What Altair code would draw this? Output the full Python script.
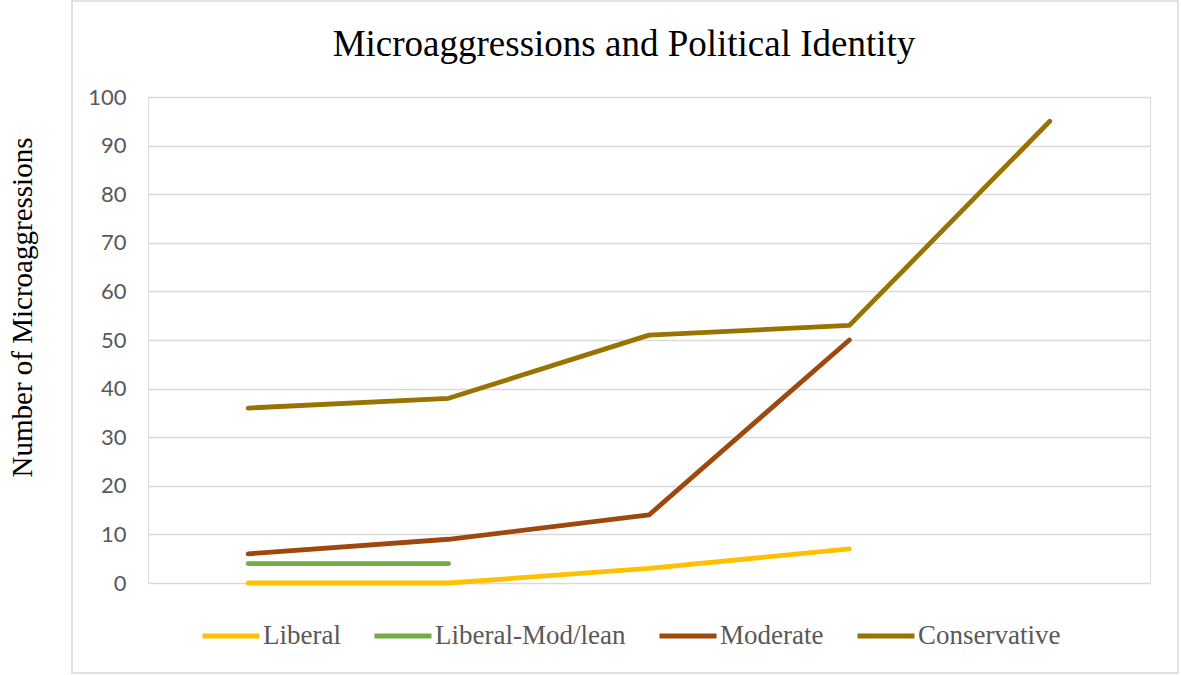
import altair as alt
import pandas as pd

# ---- data ----
series_names = ["Liberal", "Liberal-Mod/lean", "Moderate", "Conservative"]
series_colors = ["#FFC000", "#70AD47", "#9E480E", "#997300"]
positions = [1, 2, 3, 4, 5]
liberal = [0, 0, 3, 7]
liberal_mod = [4, 4]
moderate = [6, 9, 14, 50]
conservative = [36, 38, 51, 53, 95]
y_ticks = [0, 10, 20, 30, 40, 50, 60, 70, 80, 90, 100]
chart_title = "Microaggressions and Political Identity"

rows = []
for name, vals in zip(series_names, [liberal, liberal_mod, moderate, conservative]):
    for i, v in enumerate(vals):
        rows.append({"series": name, "pos": positions[i], "value": v})
df = pd.DataFrame(rows)

W, H = 1002, 486
PL, PT = 148, 97

lines = alt.Chart(df).mark_line(
    strokeWidth=4.8, strokeCap="round", strokeJoin="round"
).encode(
    x=alt.X("pos:Q", scale=alt.Scale(domain=[0.5, 5.5], nice=False, zero=False), axis=None),
    y=alt.Y(
        "value:Q",
        scale=alt.Scale(domain=[0, 100], nice=False),
        axis=alt.Axis(
            values=y_ticks,
            title="Number of Microaggressions",
            titleFont="Liberation Serif",
            titleFontSize=29,
            titleFontWeight="normal",
            titleColor="#000000",
            titleAngle=-90,
            titleAlign="center",
            titleBaseline="middle",
            titleX=22 - PL,
            titleY=210,
            labelFont="Lato",
            labelFontSize=22,
            labelColor="#595959",
            labelPadding=22,
            ticks=False,
            domain=False,
            grid=True,
            gridColor="#d9d9d9",
            gridWidth=1.5,
        ),
    ),
    color=alt.Color(
        "series:N",
        scale=alt.Scale(domain=series_names, range=series_colors),
        sort=series_names,
        legend=alt.Legend(
            title=None,
            orient="none",
            direction="horizontal",
            legendX=200 - PL,
            legendY=508,
            symbolType="stroke",
            symbolSize=3249,
            symbolStrokeWidth=5,
            labelFont="Liberation Serif",
            labelFontSize=27,
            labelColor="#595959",
            labelOffset=1,
            labelLimit=1000,
            columnPadding=23,
            padding=0,
        ),
    ),
    order=alt.Order("pos:Q"),
)

border = alt.Chart(pd.DataFrame({"k": [0]})).mark_rect(
    fillOpacity=0, stroke="#d9d9d9", strokeWidth=1.5
).encode(
    x=alt.value(72 - PL),
    x2=alt.value(1178 - PL),
    y=alt.value(1 - PT),
    y2=alt.value(673 - PT),
)

title = alt.Chart(pd.DataFrame({"t": [chart_title]})).mark_text(
    font="Liberation Serif",
    fontSize=37,
    color="#000000",
    align="center",
    baseline="alphabetic",
).encode(
    text="t:N",
    x=alt.value(624 - PL),
    y=alt.value(56 - PT),
)

chart = alt.layer(border, lines, title).properties(
    width=W,
    height=H,
    autosize=alt.AutoSizeParams(type="none"),
    padding={"left": PL, "top": PT, "right": 1181 - PL - W, "bottom": 675 - PT - H},
).configure_view(stroke=None).configure(background="white")

chart.save("out.html", embed_options={"renderer": "svg", "actions": False})
